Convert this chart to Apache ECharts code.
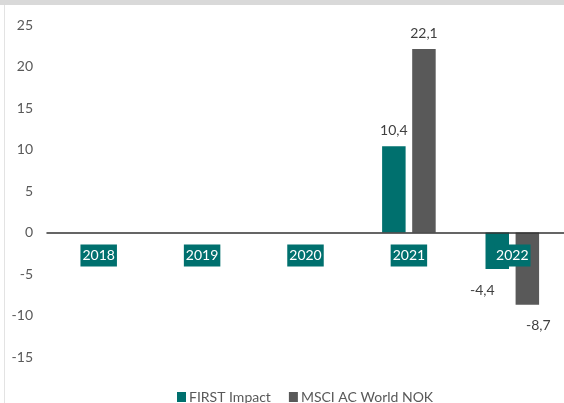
<!DOCTYPE html>
<html>
<head>
<meta charset="utf-8">
<script src="https://cdn.jsdelivr.net/npm/echarts@6/dist/echarts.min.js"></script>
<style>
html,body{margin:0;padding:0;background:#fff;}
#c{width:564px;height:403px;}
</style>
</head>
<body>
<div id="c"></div>
<script>
var categories = ['2018', '2019', '2020', '2021', '2022'];
var firstImpact = [null, null, null, 10.4, -4.4];
var msciWorld = [null, null, null, 22.1, -8.7];
var seriesNames = ['FIRST Impact', 'MSCI AC World NOK'];
var yMin = -15, yMax = 25, yStep = 5;

var FONT = 'Lato, "Open Sans", sans-serif';
function fmt(p){ return String(p.value).replace('.', ','); }
function buildData(arr, negOffsetX){
  return arr.map(function(v){
    if (v === null) return null;
    if (v < 0) {
      return { value: v, label: { position: 'bottom', distance: 14, offset: [negOffsetX, 0] } };
    }
    return { value: v };
  });
}

var chart = echarts.init(document.getElementById('c'));
chart.setOption({
  animation: false,
  backgroundColor: '#fff',
  textStyle: { fontFamily: FONT },
  graphic: [
    { type: 'rect', shape: { x: 0, y: 0, width: 564, height: 5 }, style: { fill: '#d9d9d9' }, silent: true },
    { type: 'rect', shape: { x: 4, y: 5, width: 1, height: 398 }, style: { fill: '#e3e3e3' }, silent: true }
  ],
  grid: { left: 47, top: 25, width: 519, height: 332, containLabel: false },
  legend: {
    top: 390,
    left: 177,
    itemWidth: 9,
    itemHeight: 10,
    itemGap: 18,
    icon: 'rect',
    padding: 0,
    textStyle: { fontFamily: FONT, fontSize: 14, color: '#595959', padding: [0, 0, 0, -2] },
    data: seriesNames
  },
  xAxis: {
    type: 'category',
    data: categories,
    z: 10,
    axisLine: { onZero: true, lineStyle: { color: '#333', width: 1.5 } },
    axisTick: { show: false },
    axisLabel: { show: false }
  },
  yAxis: {
    type: 'value',
    min: yMin, max: yMax, interval: yStep,
    axisLine: { show: false },
    axisTick: { show: false },
    splitLine: { show: false },
    axisLabel: { margin: 14, color: '#595959', fontFamily: FONT, fontSize: 14 }
  },
  series: [
    {
      name: seriesNames[0], type: 'bar', barWidth: 23.5, barGap: '28%',
      itemStyle: { color: '#00706E' },
      label: { show: true, position: 'top', distance: 9, formatter: fmt, color: '#404040', fontFamily: FONT, fontSize: 14 },
      data: buildData(firstImpact, -15)
    },
    {
      name: seriesNames[1], type: 'bar', barWidth: 23.5,
      itemStyle: { color: '#595959' },
      label: { show: true, position: 'top', distance: 9, formatter: fmt, color: '#404040', fontFamily: FONT, fontSize: 14 },
      data: buildData(msciWorld, 11)
    },
    {
      name: 'categoryLabels', type: 'scatter', symbolSize: 0, z: 20, silent: true,
      itemStyle: { opacity: 1 },
      label: {
        show: true, position: 'bottom', distance: 12,
        formatter: function(p){ return p.value[0]; },
        color: '#fff', fontFamily: FONT, fontSize: 14, lineHeight: 16,
        backgroundColor: '#00706E', padding: [3, 2, 3, 2]
      },
      data: categories.map(function(c){ return [c, 0]; })
    }
  ]
});
</script>
</body>
</html>
